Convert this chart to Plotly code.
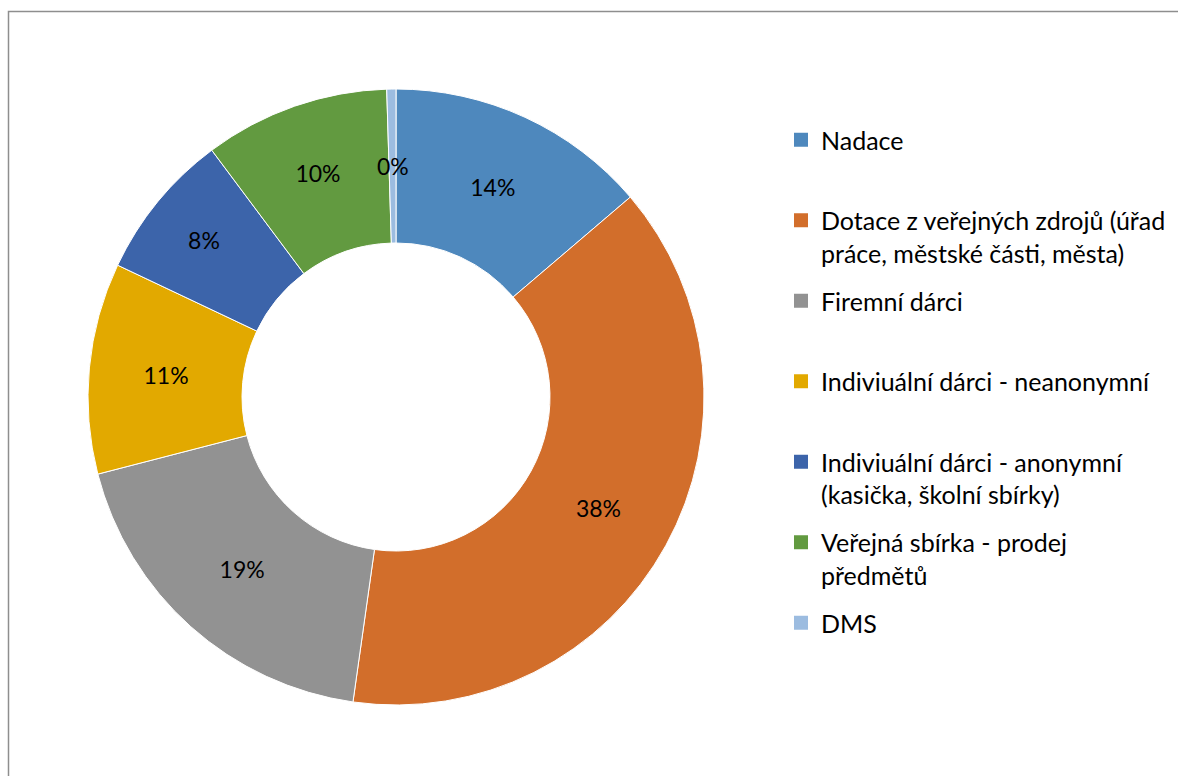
import math
import plotly.graph_objects as go

# ---- data ----
categories = [
    "Nadace",
    "Dotace z veřejných zdrojů (úřad práce, městské části, města)",
    "Firemní dárci",
    "Indiviuální dárci - neanonymní",
    "Indiviuální dárci - anonymní (kasička, školní sbírky)",
    "Veřejná sbírka - prodej předmětů",
    "DMS",
]
legend_labels = [
    "Nadace",
    "Dotace z veřejných zdrojů (úřad<br>práce, městské části, města)",
    "Firemní dárci",
    "Indiviuální dárci - neanonymní",
    "Indiviuální dárci - anonymní<br>(kasička, školní sbírky)",
    "Veřejná sbírka - prodej<br>předmětů",
    "DMS",
]
values = [13.75, 38.45, 18.73, 11.06, 7.75, 9.72, 0.48]
colors = ["#4E88BD", "#D26E2B", "#929292", "#E2A900", "#3C64AA", "#629A40", "#9CBCE0"]

# ---- layout constants ----
W, H = 1178, 776
CX, CY, R = 396, 397, 308
HOLE = 0.5
FONT = "Lato"
FS_LBL = 23
FS_LEG = 25

total = sum(values)
# the thin last slice cannot hold its label; Plotly would push it to the rim,
# so that one label is placed at the slice's mid-angle / mid-radius instead
thin = len(values) - 1
templates = ["%{percent:.0%}"] * len(values)
templates[thin] = ""

fig = go.Figure()
fig.add_trace(go.Pie(
    labels=categories,
    values=values,
    sort=False,
    direction="clockwise",
    rotation=0,
    hole=HOLE,
    marker=dict(colors=colors, line=dict(color="white", width=1)),
    texttemplate=templates,
    textposition="inside",
    insidetextorientation="horizontal",
    insidetextfont=dict(family=FONT, size=FS_LBL, color="black"),
    showlegend=False,
    domain=dict(x=[(CX - R) / W, (CX + R) / W], y=[1 - (CY + R) / H, 1 - (CY - R) / H]),
))

cum = sum(values[:thin]) + values[thin] / 2
ang = 2 * math.pi * cum / total
rmid = R * (1 + HOLE) / 2
ax_px = CX + rmid * math.sin(ang)
ay_px = CY - rmid * math.cos(ang)
annotations = [dict(
    x=ax_px / W, y=1 - ay_px / H, xref="paper", yref="paper",
    text=f"{values[thin] / total:.0%}", showarrow=False,
    font=dict(family=FONT, size=FS_LBL, color="black"),
    xanchor="center", yanchor="middle",
)]

for i, lab in enumerate(legend_labels):
    txt = lab if "<br>" in lab else lab + "<br> "
    fig.add_trace(go.Scatter(
        x=[None], y=[None], mode="markers",
        marker=dict(symbol="square", size=14, color=colors[i], line=dict(width=0)),
        name=txt, legendgroup=str(i), showlegend=True, hoverinfo="skip",
    ))

fig.update_layout(
    width=W, height=H,
    margin=dict(l=0, r=0, t=0, b=0),
    paper_bgcolor="white", plot_bgcolor="white",
    xaxis=dict(visible=False), yaxis=dict(visible=False),
    legend=dict(
        x=781 / W, xanchor="left", y=1 - 117 / H, yanchor="top",
        traceorder="grouped", tracegroupgap=12.5, valign="top",
        font=dict(family=FONT, size=FS_LEG, color="black"),
        bgcolor="rgba(0,0,0,0)",
    ),
    uniformtext=dict(mode="show", minsize=FS_LBL),
    annotations=annotations,
    shapes=[dict(
        type="rect", xref="paper", yref="paper",
        x0=8.5 / W, x1=1.2, y0=-0.2, y1=1 - 11.5 / H,
        line=dict(color="#8E8E8E", width=1.5), fillcolor="rgba(0,0,0,0)", layer="below",
    )],
)

fig.write_html("out.html")
